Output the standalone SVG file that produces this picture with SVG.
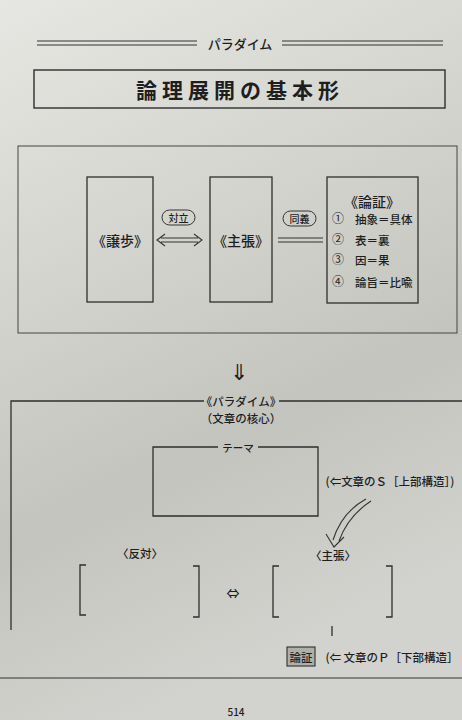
<svg xmlns="http://www.w3.org/2000/svg" width="462" height="720" viewBox="0 0 462 720">
<defs>
<linearGradient id="bg" x1="0" y1="0" x2="0.3" y2="1">
<stop offset="0" stop-color="#e6e6e2"/>
<stop offset="0.35" stop-color="#d6d6d1"/>
<stop offset="0.7" stop-color="#c4c4bf"/>
<stop offset="1" stop-color="#d2d2ce"/>
</linearGradient>
<style>
.ln{fill:none;stroke:#2e2e2e;stroke-width:1.3}
.thin{fill:none;stroke:#333;stroke-width:1.1}
.t{font-family:"Noto Sans CJK JP","Noto Sans",sans-serif;fill:#1e1e1e;text-anchor:middle;dominant-baseline:central;font-weight:500}
.l{text-anchor:start}
.s{font-family:"Liberation Serif","Noto Sans CJK JP",serif;fill:#1e1e1e;dominant-baseline:central}
.pill{fill:none;stroke:#333;stroke-width:1}
</style>
</defs>
<rect width="462" height="720" fill="url(#bg)"/>

<g id="header">
<path class="thin" d="M37 41H197M37 45H197M282 41H443M282 45H443"/>
<text class="t" x="240" y="43" font-size="13">パラダイム</text>
</g>
<g id="title">
<rect x="34" y="70" width="411" height="38" fill="none" stroke="#2e2e2e" stroke-width="1.4"/>
<text class="t" x="240" y="89" font-size="21" font-weight="bold" style="font-weight:bold" letter-spacing="5">論理展開の基本形</text>
</g>

<g id="top-panel">
<rect x="18" y="146" width="439" height="187" fill="none" stroke="#444" stroke-width="1"/>
</g>
<g id="node-joho">
<rect x="87" y="177" width="66" height="125" class="ln"/>
<text class="t" x="120" y="240" font-size="14">《譲歩》</text>
</g>
<g id="node-shucho">
<rect x="210" y="177" width="62" height="125" class="ln"/>
<text class="t" x="241" y="240" font-size="14">《主張》</text>
</g>
<g id="node-ronsho">
<rect x="327" y="177" width="91" height="126" class="ln"/>
<text class="t" x="372" y="201" font-size="14">《論証》</text>
<text class="s" x="332" y="219" font-size="12">①</text>
<text class="t l" x="355" y="219" font-size="11.5">抽象＝具体</text>
<text class="s" x="332" y="240" font-size="12">②</text>
<text class="t l" x="355" y="240" font-size="11.5">表＝裏</text>
<text class="s" x="332" y="260" font-size="12">③</text>
<text class="t l" x="355" y="260" font-size="11.5">因＝果</text>
<text class="s" x="332" y="282" font-size="12">④</text>
<text class="t l" x="355" y="282" font-size="11.5">論旨＝比喩</text>
</g>
<g id="label-tairitsu">
<rect x="162" y="210" width="33" height="15" rx="7.5" class="pill"/>
<text class="t" x="178.5" y="217.5" font-size="10">対立</text>
</g>
<g id="label-dogi">
<rect x="283" y="211" width="33" height="15" rx="7.5" class="pill"/>
<text class="t" x="299.5" y="218.5" font-size="10">同義</text>
</g>

<g id="connectors">
<path class="thin" d="M161 238H198M161 242H198M165 234L157 240L165 246M194 234L202 240L194 246"/>
<path class="thin" d="M278 238H323M278 242H323"/>
<text class="t" x="239" y="370" font-size="22">⇓</text>
<path class="thin" d="M366 499Q342 512 333 540M371 501Q348 516 339 541M326 534L334 547L344 537"/>
<text class="t" x="233" y="592" font-size="13">⇔</text>
<path class="ln" d="M332 626V636" stroke-width="2"/>
</g>

<g id="bottom-panel">
<path class="ln" d="M11 630V401H204M279 401H462"/>
<text class="t" x="241" y="401" font-size="11.5">《パラダイム》</text>
<text class="t" x="241" y="418" font-size="11.5">（文章の核心）</text>
<path d="M0 678H462" stroke="#333" stroke-width="1.2"/>
</g>
<g id="node-theme">
<path class="ln" d="M218 447H153V516H318V447H258"/>
<text class="t" x="238" y="447" font-size="10.5">テーマ</text>
</g>
<g id="label-S">
<text class="t" x="390" y="481" font-size="11.5">(⇐文章のＳ［上部構造］)</text>
</g>
<g id="node-hantai">
<text class="t" x="140" y="553" font-size="11.5">〈反対〉</text>
<path class="ln" d="M86 565H80V615H86M193 566H199V617H193"/>
</g>
<g id="node-shucho2">
<text class="t" x="333" y="555" font-size="11.5">〈主張〉</text>
<path class="ln" d="M279 566H273V617H279M386 566H392V617H386"/>
</g>
<g id="node-ronsho2">
<rect x="287" y="647" width="28" height="19" fill="#b0b0ab" stroke="#2e2e2e" stroke-width="1.1"/>
<text class="t" x="301" y="656.5" font-size="11.5">論証</text>
<text class="t" x="392" y="657" font-size="11.5">(⇐ 文章のＰ［下部構造］</text>
</g>
<text class="t" x="236" y="711" font-size="10">514</text>
</svg>
